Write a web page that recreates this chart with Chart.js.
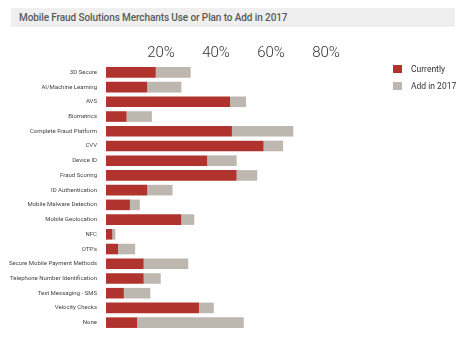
<!DOCTYPE html>
<html><head><meta charset="utf-8">
<script src="https://cdn.jsdelivr.net/npm/chart.js@4"></script>
<style>
html,body{margin:0;padding:0;background:#fff;}
#wrap{position:relative;width:468px;height:356px;overflow:hidden;}
#title{position:absolute;left:11px;top:8px;width:444px;height:19px;background:#efefef;font:500 10px Roboto,sans-serif;letter-spacing:-0.1px;color:#5a5a5a;line-height:19px;padding-left:8px;box-sizing:border-box;white-space:nowrap;}
canvas{position:absolute;left:0;top:0;}
#legend{position:absolute;left:393px;top:65px;font:400 8.5px Roboto,sans-serif;color:#333;}
.item{display:flex;align-items:center;height:8px;margin-bottom:9px;}
.sw{width:9px;height:8px;margin-right:9px;}
</style></head><body>
<div id="wrap">
<div id="title">Mobile Fraud Solutions Merchants Use or Plan to Add in 2017</div>
<canvas id="c" width="468" height="356"></canvas>
<div id="legend"></div>
</div>
<script>
const categories = ["3D Secure","AI/Machine Learning","AVS","Biometrics","Complete Fraud Platform","CVV","Device ID","Fraud Scoring","ID Authentication","Mobile Malware Detection","Mobile Geolocation","NFC","OTP's","Secure Mobile Payment Methods","Telephone Number Identification","Text Messaging - SMS","Velocity Checks","None"];
const currently = [18.1,15.0,45.1,7.5,45.8,57.3,36.8,47.5,15.0,8.7,27.4,2.3,4.4,13.7,13.7,6.5,33.8,11.3];
const add2017   = [12.7,12.4,5.8,9.2,22.3,7.1,10.7,7.5,9.2,3.6,4.7,1.1,6.2,16.2,6.2,9.6,5.4,38.8];
const tickValues = [20,40,60,80];
const seriesNames = ["Currently","Add in 2017"];
const seriesColors = ["#b0342d","#bdb7b0"];

const legend = document.getElementById('legend');
seriesNames.forEach((n,i)=>{
  const it=document.createElement('div');it.className='item';
  const sw=document.createElement('span');sw.className='sw';sw.style.background=seriesColors[i];
  const tx=document.createElement('span');tx.textContent=n;
  it.appendChild(sw);it.appendChild(tx);legend.appendChild(it);
});

new Chart(document.getElementById('c').getContext('2d'),{
  type:'bar',
  data:{labels:categories,datasets:[
    {label:seriesNames[0],data:currently,backgroundColor:seriesColors[0],barPercentage:0.72,categoryPercentage:1,borderWidth:0},
    {label:seriesNames[1],data:add2017,backgroundColor:seriesColors[1],barPercentage:0.72,categoryPercentage:1,borderWidth:0}
  ]},
  options:{
    indexAxis:'y',responsive:false,animation:false,maintainAspectRatio:false,
    layout:{padding:{left:0,right:87,top:0,bottom:26}},
    plugins:{legend:{display:false},tooltip:{enabled:false}},
    scales:{
      x:{position:'top',stacked:true,min:0,max:100,
        grid:{display:false,drawTicks:false},border:{display:false},
        afterBuildTicks:s=>{s.ticks=tickValues.map(v=>({value:v}));},
        ticks:{callback:v=>v+'%',font:{family:'Roboto',size:15,weight:300},color:'#333',padding:3},
        afterFit:s=>{s.height=65;}},
      y:{stacked:true,grid:{display:false,drawTicks:false},border:{display:false},
        ticks:{font:{family:'Roboto',size:6},color:'#444',padding:9,autoSkip:false},
        afterFit:s=>{s.width=106;}}
    }
  }
});
</script>
</body></html>
